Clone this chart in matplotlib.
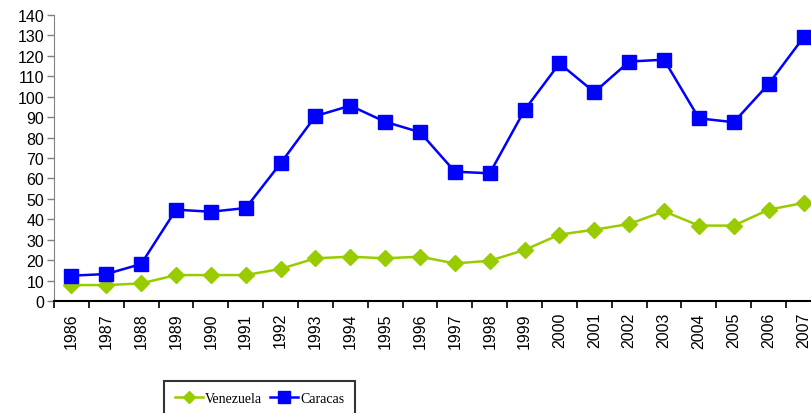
import numpy as np
import matplotlib.pyplot as plt
from matplotlib.ticker import FixedLocator

# datos
years = [str(y) for y in range(1986, 2008)]
venezuela = [7.8, 7.8, 8.6, 12.7, 12.7, 12.7, 15.7, 20.9, 21.7, 20.9, 21.7,
             18.4, 19.7, 25.0, 32.5, 34.9, 37.7, 43.9, 36.9, 36.9, 44.7, 48.0]
caracas = [12.4, 13.2, 18.1, 44.7, 43.7, 45.5, 67.4, 90.5, 95.6, 87.7, 82.6,
           63.3, 62.5, 93.5, 116.3, 102.2, 117.2, 118.1, 89.4, 87.5, 106.2, 129.0]

fig = plt.figure(figsize=(8.12, 4.14), dpi=100)
ax = fig.add_axes([0.0665, 0.2705, 0.9445, 0.691])

x = np.arange(len(years))
ax.plot(x, venezuela, color='#99CC00', marker='D', markersize=8, linewidth=1.8,
        label='Venezuela')
ax.plot(x, caracas, color='#0000FF', marker='s', markersize=10, linewidth=1.8,
        label='Caracas')

ax.set_xlim(-0.5, len(years) - 0.5)
ax.set_ylim(0, 140)
ax.set_yticks(np.arange(0, 141, 10))
ax.set_xticks(x)
ax.set_xticklabels(years, rotation=90, fontsize=11.5, family='Liberation Sans')
ax.xaxis.set_minor_locator(FixedLocator(np.arange(-0.5, len(years), 1)))
ax.tick_params(axis='x', which='major', length=0, pad=8)
ax.tick_params(axis='x', which='minor', length=5, width=1.2, direction='out')
ax.tick_params(axis='y', length=5, width=1, color='#808080', pad=2)
for lab in ax.get_yticklabels():
    lab.set_family('Liberation Sans')
    lab.set_fontsize(11.5)

ax.spines['top'].set_visible(False)
ax.spines['right'].set_visible(False)
ax.spines['left'].set_color('#808080')
ax.spines['bottom'].set_linewidth(1.5)

leg = fig.legend(loc='upper center', bbox_to_anchor=(0.3196, 0.0773), ncol=2,
                 prop={'family': 'Liberation Serif', 'size': 10},
                 fancybox=False, edgecolor='black', handlelength=2.0,
                 handletextpad=0.15, columnspacing=0.6, borderpad=0.8,
                 borderaxespad=0, markerscale=0.8)
leg.get_frame().set_linewidth(1.5)

fig.savefig('out.png', dpi=100)
